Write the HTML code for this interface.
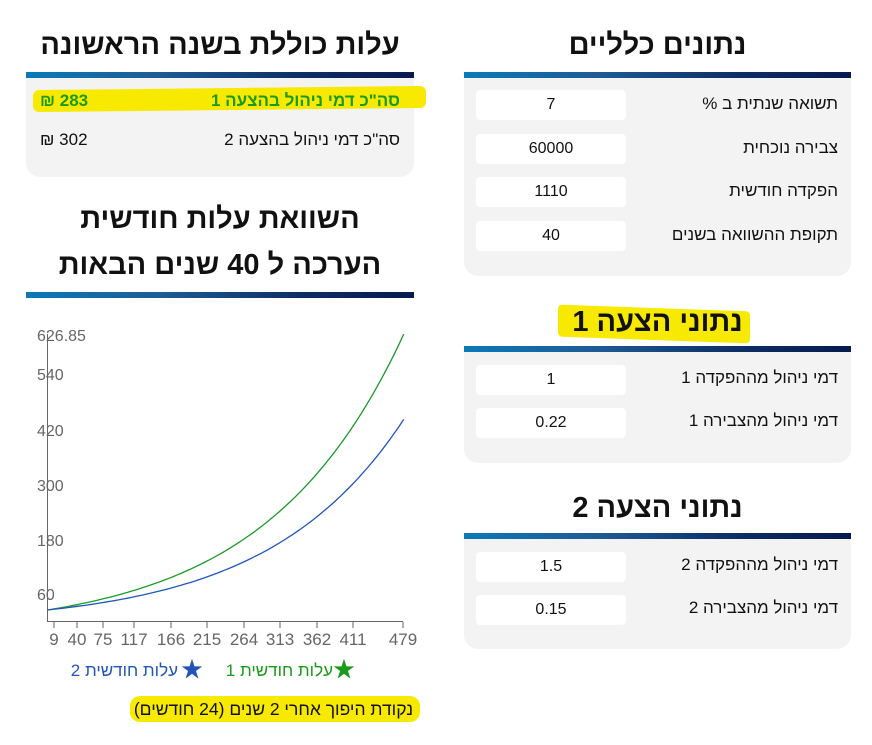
<!DOCTYPE html>
<html><head><meta charset="utf-8"><style>
body{margin:0;width:872px;height:745px;background:#fff;position:relative;overflow:hidden;font-family:"Liberation Sans","Noto Sans CJK SC",sans-serif;}
.a{position:absolute;}
.t{position:absolute;text-align:center;font-weight:bold;font-size:29px;color:#111;direction:rtl;white-space:nowrap;z-index:3}
.bar{position:absolute;height:6px;background:linear-gradient(90deg,#0a7ab8,#1e5a94 35%,#0c2f66 70%,#061a4e);}
.pan{position:absolute;background:#f3f3f3;border-radius:0 0 14px 14px;z-index:0}
.in{position:absolute;left:476px;width:150px;height:30px;background:#fff;border-radius:4px;text-align:center;line-height:30px;font-size:16px;color:#111;z-index:3}
.lb{position:absolute;right:34px;font-size:17px;color:#111;direction:rtl;white-space:nowrap;line-height:30px;z-index:3}
.hl{position:absolute;background:#f7ea00;z-index:2}
</style></head><body>
<!-- highlights -->
<div class="hl" style="left:33px;top:88px;width:393px;height:22px;transform:skewY(-0.6deg);border-radius:6px"></div>
<div class="hl" style="left:558px;top:308px;width:192px;height:32px;border-radius:4px;transform:skewY(2deg)"></div>
<div class="hl" style="left:130px;top:696px;width:290px;height:26px;border-radius:10px"></div>

<!-- Left top -->
<div class="t" style="left:26px;width:388px;top:29px">עלות כוללת בשנה הראשונה</div>
<div class="bar" style="left:26px;width:388px;top:72px"></div>
<div class="pan" style="left:26px;width:388px;top:78px;height:99px"></div>
<div class="a" style="left:26px;width:388px;top:91px;height:20px;font-size:17px;font-weight:bold;color:#1a9a1a;direction:rtl;z-index:3">
 <span class="a" style="right:14px">סה"כ דמי ניהול בהצעה 1</span><span class="a" style="left:14px">283 ₪</span></div>
<div class="a" style="left:26px;width:388px;top:130px;height:20px;font-size:17px;color:#111;direction:rtl;z-index:3">
 <span class="a" style="right:14px">סה"כ דמי ניהול בהצעה 2</span><span class="a" style="left:14px">302 ₪</span></div>

<div class="t" style="left:26px;width:388px;top:203px">השוואת עלות חודשית</div>
<div class="t" style="left:26px;width:388px;top:249px">הערכה ל 40 שנים הבאות</div>
<div class="bar" style="left:26px;width:388px;top:292px"></div>

<svg class="a" style="left:0;top:0" width="440" height="660">
 <g font-family="Liberation Sans, sans-serif" font-size="16" fill="#666">
  <text x="37" y="341">626.85</text><text x="37" y="380">540</text><text x="37" y="436">420</text>
  <text x="37" y="491">300</text><text x="37" y="546">180</text><text x="37" y="600">60</text>
 </g>
 <line x1="47.5" y1="334" x2="47.5" y2="622" stroke="#666" stroke-width="1"/>
 <line x1="47" y1="621.5" x2="403" y2="621.5" stroke="#666" stroke-width="1"/>
 <g stroke="#666">
  <line x1="54" y1="622" x2="54" y2="628"/><line x1="77" y1="622" x2="77" y2="628"/><line x1="103" y1="622" x2="103" y2="628"/><line x1="134" y1="622" x2="134" y2="628"/><line x1="171" y1="622" x2="171" y2="628"/><line x1="207" y1="622" x2="207" y2="628"/><line x1="244" y1="622" x2="244" y2="628"/><line x1="280" y1="622" x2="280" y2="628"/><line x1="317" y1="622" x2="317" y2="628"/><line x1="353" y1="622" x2="353" y2="628"/><line x1="403" y1="622" x2="403" y2="628"/>
 </g>
 <g font-family="Liberation Sans, sans-serif" font-size="17" fill="#666" text-anchor="middle">
  <text x="54" y="645">9</text><text x="77" y="645">40</text><text x="103" y="645">75</text><text x="134" y="645">117</text><text x="171" y="645">166</text><text x="207" y="645">215</text><text x="244" y="645">264</text><text x="280" y="645">313</text><text x="317" y="645">362</text><text x="353" y="645">411</text><text x="403" y="645">479</text>
 </g>
 <path id="g" fill="none" stroke="#1a9a2a" stroke-width="1.3"/>
 <path id="b" fill="none" stroke="#2255bb" stroke-width="1.3"/>
</svg>
<div class="a" style="left:333px;top:652px;font-size:22px;line-height:36px;color:#1a9a1a">★</div>
<div class="a" style="right:539px;top:661px;font-size:17px;color:#1a9a1a;direction:rtl;white-space:nowrap">עלות חודשית 1</div>
<div class="a" style="left:181px;top:652px;font-size:22px;line-height:36px;color:#2255bb">★</div>
<div class="a" style="right:694px;top:661px;font-size:17px;color:#2255bb;direction:rtl;white-space:nowrap">עלות חודשית 2</div>
<div class="a" style="right:459px;top:699px;font-size:17.5px;color:#111;direction:rtl;white-space:nowrap;z-index:3">נקודת היפוך אחרי 2 שנים (24 חודשים)</div>
<script>
function mk(c,k){var d="";for(var t=0;t<=480;t+=6){var v=25+c*(Math.exp(k*t)-1);var x=47.3+t*0.7426;var y=594-(v-60)*0.4583;d+=(t?"L":"M")+x.toFixed(1)+","+y.toFixed(1);}return d;}
document.getElementById("g").setAttribute("d",mk(602/(Math.exp(0.0054*480)-1),0.0054));
document.getElementById("b").setAttribute("d",mk(416/(Math.exp(0.0055*480)-1),0.0055));
</script>

<!-- Right column -->
<div class="t" style="left:464px;width:387px;top:29px">נתונים כלליים</div>
<div class="bar" style="left:464px;width:387px;top:72px"></div>
<div class="pan" style="left:464px;width:387px;top:78px;height:198px"></div>
<div class="in" style="top:90px">7</div><div class="lb" style="top:89px">תשואה שנתית ב %</div>
<div class="in" style="top:134px">60000</div><div class="lb" style="top:133px">צבירה נוכחית</div>
<div class="in" style="top:177px">1110</div><div class="lb" style="top:176px">הפקדה חודשית</div>
<div class="in" style="top:221px">40</div><div class="lb" style="top:220px">תקופת ההשוואה בשנים</div>

<div class="t" style="left:464px;width:387px;top:306px">נתוני הצעה 1</div>
<div class="bar" style="left:464px;width:387px;top:346px"></div>
<div class="pan" style="left:464px;width:387px;top:352px;height:111px"></div>
<div class="in" style="top:365px">1</div><div class="lb" style="top:363px">דמי ניהול מההפקדה 1</div>
<div class="in" style="top:408px">0.22</div><div class="lb" style="top:406px">דמי ניהול מהצבירה 1</div>

<div class="t" style="left:464px;width:387px;top:492px">נתוני הצעה 2</div>
<div class="bar" style="left:464px;width:387px;top:533px"></div>
<div class="pan" style="left:464px;width:387px;top:539px;height:110px"></div>
<div class="in" style="top:552px">1.5</div><div class="lb" style="top:550px">דמי ניהול מההפקדה 2</div>
<div class="in" style="top:595px">0.15</div><div class="lb" style="top:593px">דמי ניהול מהצבירה 2</div>
</body></html>
